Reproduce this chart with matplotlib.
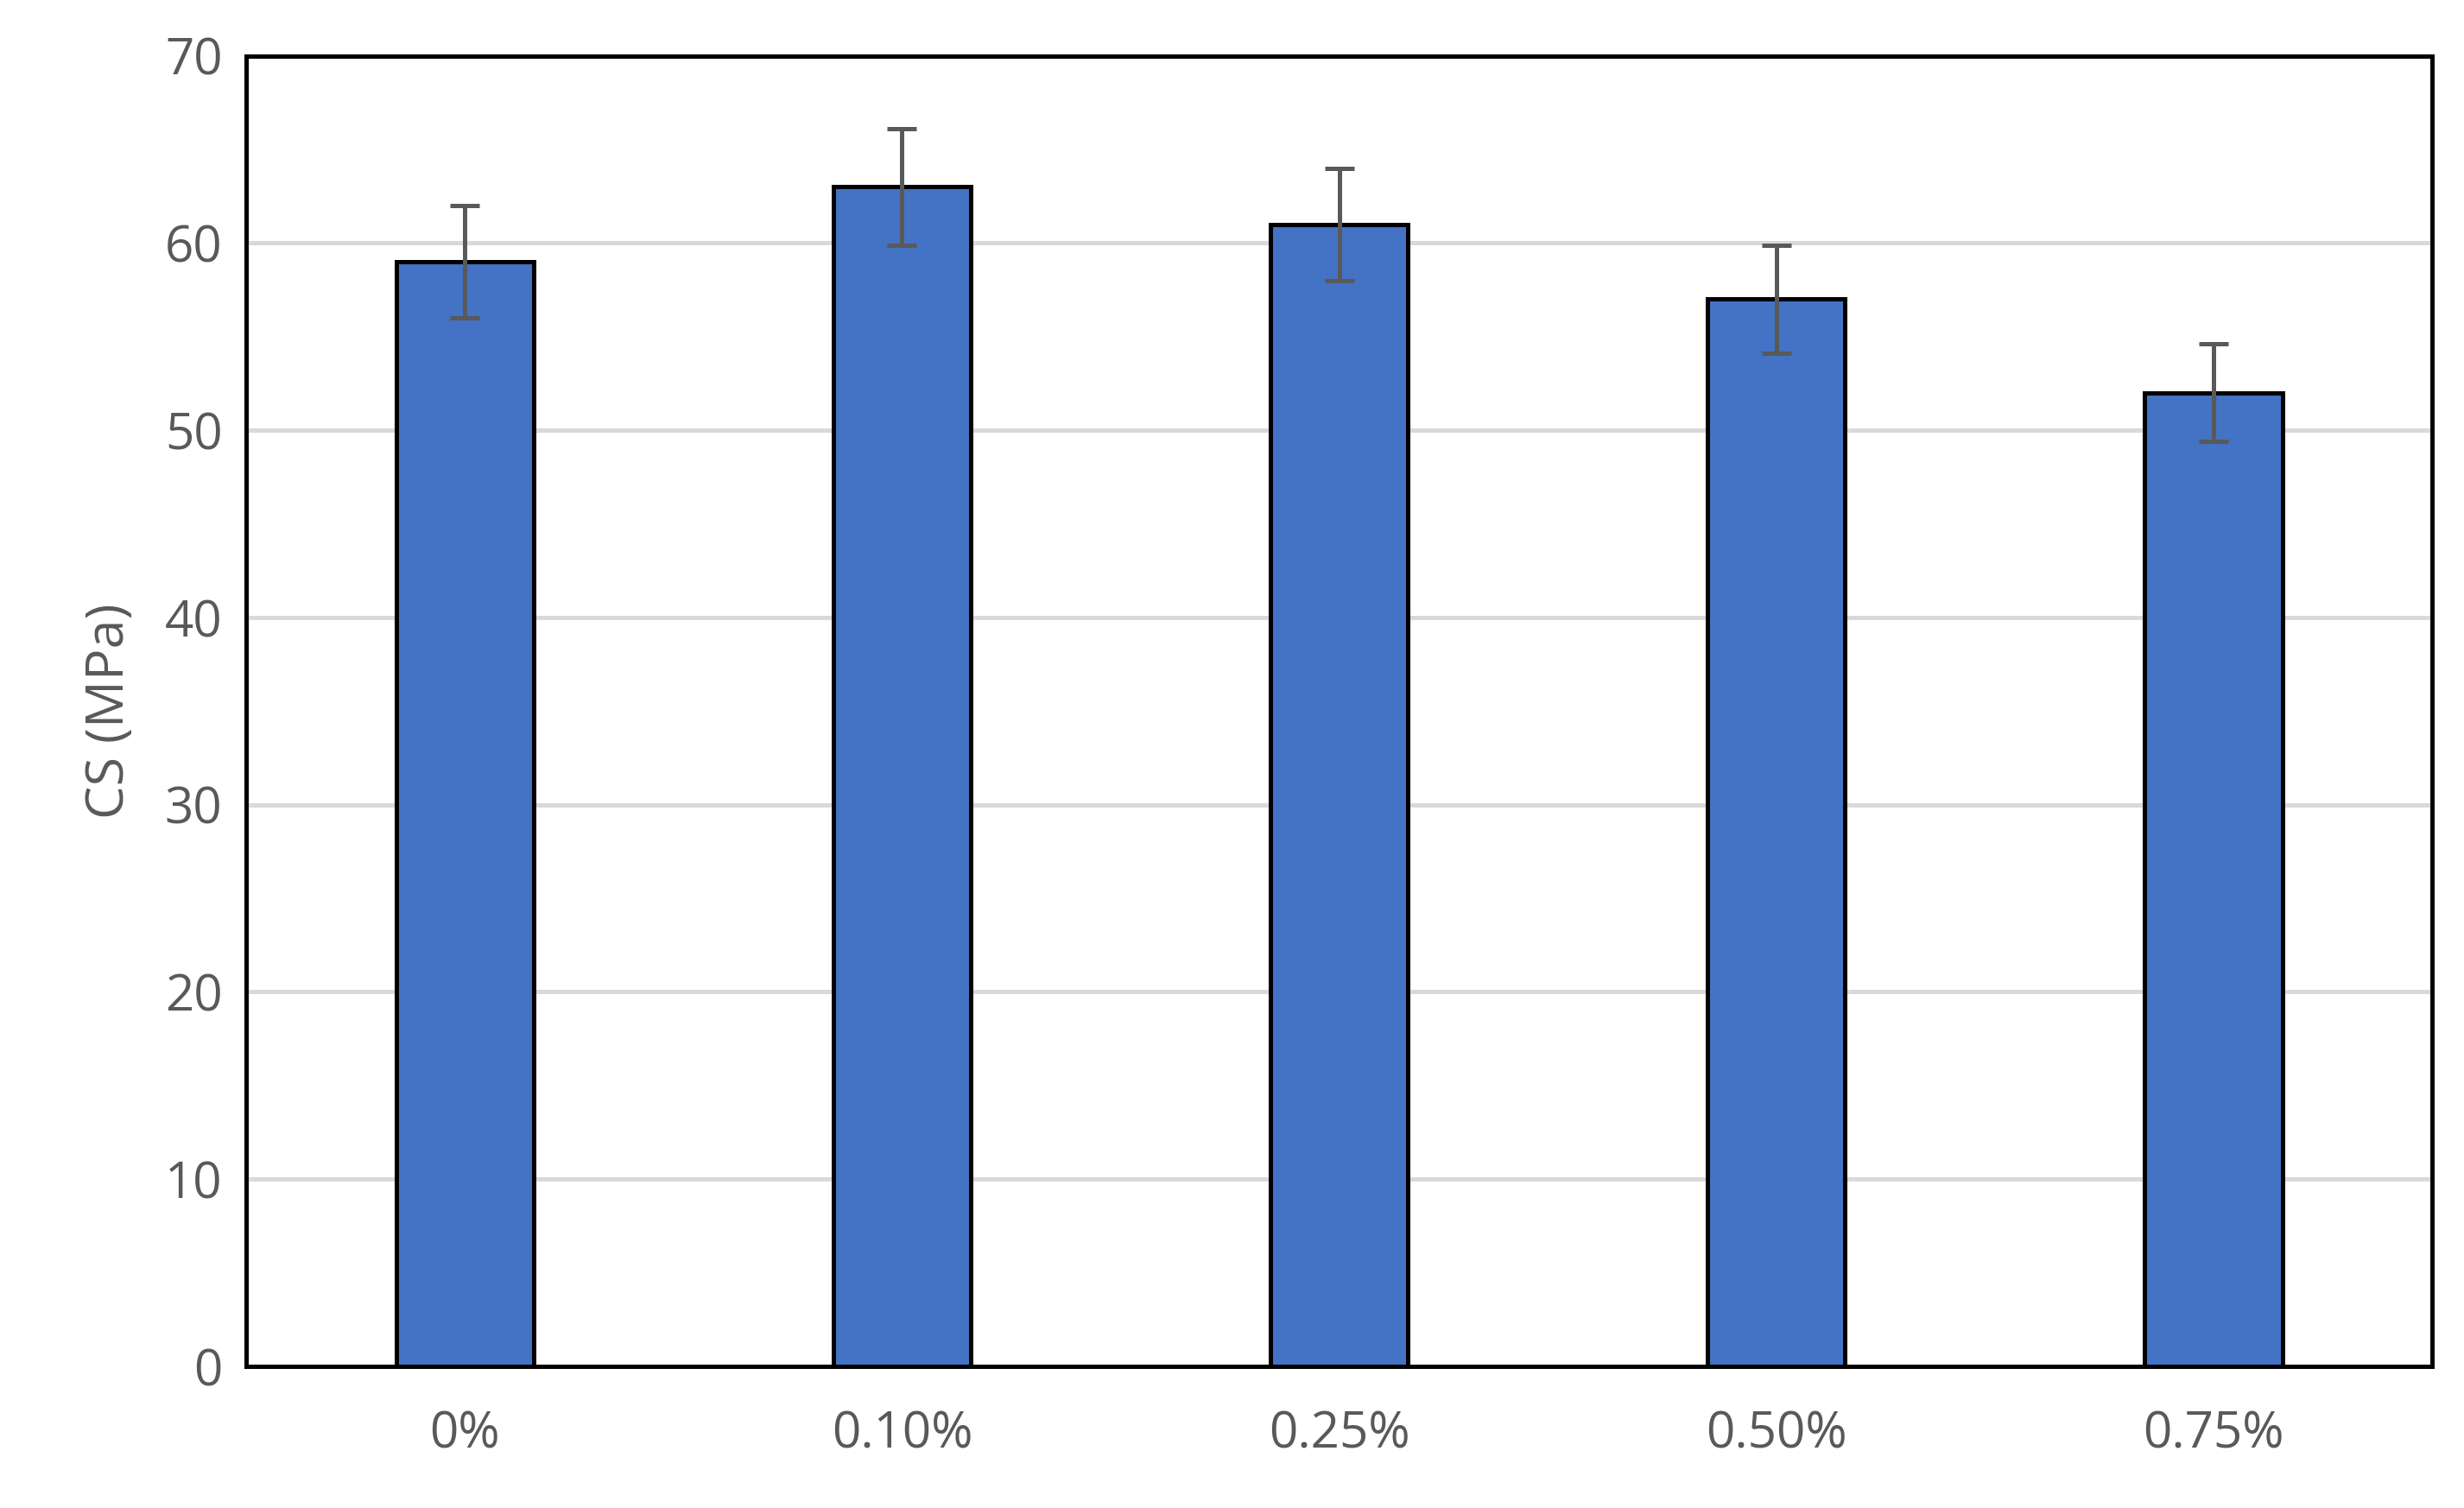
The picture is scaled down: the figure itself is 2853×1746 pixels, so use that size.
import matplotlib
matplotlib.use("Agg")
import matplotlib.pyplot as plt

categories = ["0%", "0.10%", "0.25%", "0.50%", "0.75%"]
values = [59, 63, 61, 57, 52]
errors = [3.0, 3.1, 3.0, 2.9, 2.6]

plt.rcParams['font.family'] = ['Open Sans', 'DejaVu Sans']
fig = plt.figure(figsize=(14.265, 8.73), dpi=200)
ax = fig.add_axes([0.100, 0.094, 0.887, 0.869])
x = range(len(categories))
ax.bar(x, values, width=0.315, color="#4472C4", edgecolor="black", linewidth=1.8, zorder=3)
ax.errorbar(x, values, yerr=errors, fmt="none", ecolor="#595959", elinewidth=1.8, capsize=6, capthick=1.8, zorder=4)
ax.set_ylim(0, 70)
ax.set_xlim(-0.5, 4.5)
ax.set_yticks(range(0, 71, 10))
ax.set_xticks(list(x))
ax.set_xticklabels(categories)
ax.yaxis.grid(True, color="#D9D9D9", linewidth=1.8, zorder=0)
ax.set_axisbelow(True)
for s in ax.spines.values():
    s.set_color("black"); s.set_linewidth(1.8)
ax.tick_params(axis="both", length=0, labelsize=21, labelcolor="#595959")
ax.tick_params(axis="x", pad=18)
ax.tick_params(axis="y", pad=10)
ax.set_ylabel("CS (MPa)", fontsize=22, color="#595959", labelpad=12)
fig.savefig("out.png", dpi=200)
